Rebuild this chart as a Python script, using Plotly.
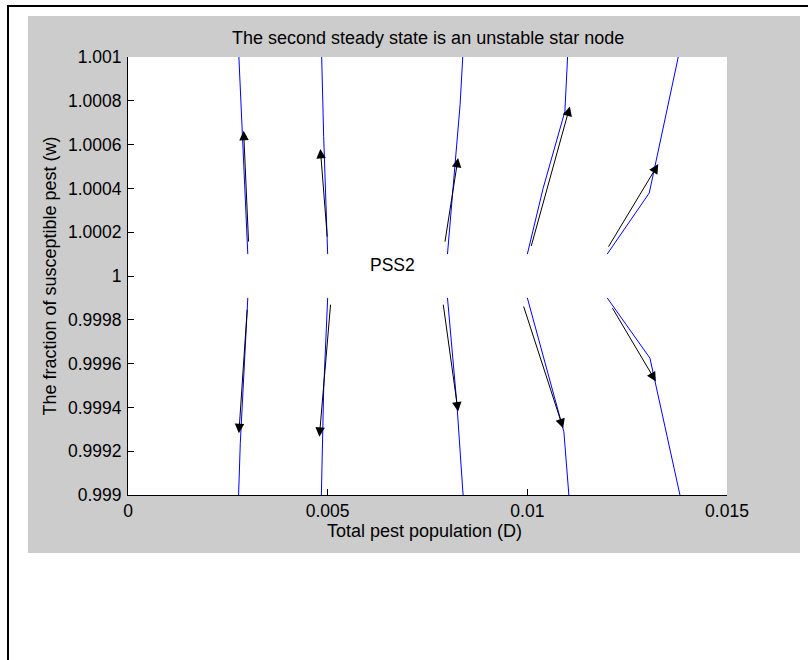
import plotly.graph_objects as go

# ---- data ----
# blue trajectories (D, w)
traj_D = [
    [0.0030, 0.002945, 0.002895, 0.002837, 0.002777],
    [0.0050, 0.004942, 0.004900, 0.004850],
    [0.0080, 0.008200, 0.008316, 0.008383],
    [0.0100, 0.010396, 0.010940, 0.011008],
    [0.0120, 0.013053, 0.013780],
    [0.0030, 0.002877, 0.002812, 0.002769],
    [0.0050, 0.004900, 0.004842],
    [0.0080, 0.008241, 0.008391],
    [0.0100, 0.010915, 0.011040],
    [0.0120, 0.013070, 0.013822],
]
traj_w = [
    [1.0001, 1.000325, 1.000477, 1.000767, 1.001],
    [1.0001, 1.000403, 1.000637, 1.001],
    [1.0001, 1.000554, 1.000782, 1.001],
    [1.0001, 1.000401, 1.000751, 1.001],
    [1.0001, 1.000379, 1.001],
    [0.9999, 0.999480, 0.999236, 0.999],
    [0.9999, 0.999480, 0.999],
    [0.9999, 0.999404, 0.999],
    [0.9999, 0.999289, 0.999],
    [0.9999, 0.999625, 0.999],
]

# black direction arrows: tail -> tip
arrow_D0 = [0.003020, 0.004992, 0.007932, 0.010088, 0.012010,
            0.002987, 0.005075, 0.007890, 0.009895, 0.012110]
arrow_w0 = [1.000150, 1.000173, 1.000150, 1.000130, 1.000127,
            0.999853, 0.999876, 0.999876, 0.999868, 0.999860]
arrow_D1 = [0.002895, 0.004817, 0.008266, 0.011065, 0.013278,
            0.002777, 0.004792, 0.008266, 0.010897, 0.013220]
arrow_w1 = [1.000663, 1.000580, 1.000539, 1.000774, 1.000511,
            0.999282, 0.999266, 0.999381, 0.999305, 0.999518]

x_ticks = [0, 0.005, 0.01, 0.015]
x_ticktext = ["0", "0.005", "0.01", "0.015"]
y_ticks = [0.999, 0.9992, 0.9994, 0.9996, 0.9998, 1.0, 1.0002, 1.0004, 1.0006, 1.0008, 1.001]
y_ticktext = ["0.999", "0.9992", "0.9994", "0.9996", "0.9998", "1",
              "1.0002", "1.0004", "1.0006", "1.0008", "1.001"]

label_text = "PSS2"
label_D, label_w = 0.0060, 1.00005

title_text = "The second steady state is an unstable star node"
xlabel = "Total pest population (D)"
ylabel = "The fraction of susceptible pest (w)"

FONT = "Liberation Sans, Arial, sans-serif"
FS = 17.5
FS_T = 18

fig = go.Figure()
for d, w in zip(traj_D, traj_w):
    fig.add_trace(go.Scatter(x=d, y=w, mode="lines",
                             line=dict(color="#0000ff", width=1),
                             showlegend=False, hoverinfo="skip"))

annotations = []
for d0, w0, d1, w1 in zip(arrow_D0, arrow_w0, arrow_D1, arrow_w1):
    annotations.append(dict(x=d1, y=w1, ax=d0, ay=w0, xref="x", yref="y",
                            axref="x", ayref="y", showarrow=True, text="",
                            arrowhead=2, arrowsize=1.9, arrowwidth=1,
                            arrowcolor="black", standoff=0, startstandoff=0))

annotations.append(dict(x=label_D, y=label_w, xref="x", yref="y", text=label_text,
                        showarrow=False, xanchor="left", yanchor="middle",
                        font=dict(family=FONT, size=FS, color="black")))
annotations.append(dict(x=0.5, y=1.0434, xref="paper", yref="paper", text=title_text,
                        showarrow=False, xanchor="center", yanchor="middle",
                        font=dict(family=FONT, size=FS_T, color="black")))
annotations.append(dict(x=0.4958, y=-0.0822, xref="paper", yref="paper", text=xlabel,
                        showarrow=False, xanchor="center", yanchor="middle",
                        font=dict(family=FONT, size=FS_T, color="black")))
annotations.append(dict(x=-0.131, y=0.5, xref="paper", yref="paper", text=ylabel,
                        showarrow=False, xanchor="center", yanchor="middle",
                        textangle=-90,
                        font=dict(family=FONT, size=FS_T, color="black")))

shapes = [
    dict(type="rect", xref="paper", yref="paper", x0=-0.16694, x1=1.12187,
         y0=-0.13242, y1=1.09361, fillcolor="#cccccc", line=dict(width=0),
         layer="below"),
    dict(type="rect", xref="paper", yref="paper", x0=0, x1=1, y0=0, y1=1,
         fillcolor="white", line=dict(width=0), layer="below"),
    dict(type="rect", xref="paper", yref="paper", x0=-0.20033, x1=1.25,
         y0=-0.5, y1=1.1164, fillcolor="rgba(0,0,0,0)",
         line=dict(color="black", width=2), layer="above"),
]

fig.update_layout(
    width=808, height=660,
    margin=dict(l=128, r=81, t=57, b=165),
    paper_bgcolor="white", plot_bgcolor="white",
    font=dict(family=FONT, size=FS, color="black"),
    annotations=annotations, shapes=shapes, showlegend=False,
)
fig.update_xaxes(range=[0, 0.015], tickvals=x_ticks, ticktext=x_ticktext,
                 showgrid=False, zeroline=False, showline=True, linecolor="black",
                 linewidth=1, ticks="inside", ticklen=6, tickcolor="black",
                 mirror=False, ticklabelstandoff=0,
                 tickfont=dict(family=FONT, size=FS, color="black"))
fig.update_yaxes(range=[0.999, 1.001], tickvals=y_ticks, ticktext=y_ticktext,
                 showgrid=False, zeroline=False, showline=True, linecolor="black",
                 linewidth=1, ticks="inside", ticklen=6, tickcolor="black",
                 mirror=False, ticklabelstandoff=2,
                 tickfont=dict(family=FONT, size=FS, color="black"))

fig.write_html("out.html", config={"displayModeBar": False},
               post_script="document.body.style.margin='0';")
